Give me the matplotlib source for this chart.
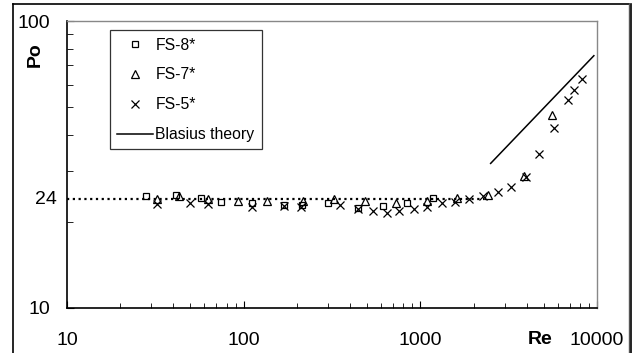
import numpy as np
import matplotlib
matplotlib.use("Agg")
import matplotlib.pyplot as plt
from matplotlib.ticker import LogLocator, NullFormatter, FixedLocator, FixedFormatter
from matplotlib.lines import Line2D

plt.rcParams['font.family'] = ['Liberation Sans', 'DejaVu Sans']

# FS-8* (squares)
re_fs8 = [27.9, 41.4, 57.3, 74.1, 111.9, 168.5, 212.9, 301, 445, 617, 843, 1183]
po_fs8 = [24.5, 24.7, 24.1, 23.5, 23.2, 22.9, 22.9, 23.2, 22.3, 22.7, 23.2, 24.1]

# FS-7* (triangles)
re_fs7 = [32.4, 43.0, 63.1, 93.2, 135, 217, 324, 486, 728, 1094, 1604, 2404, 3857, 5534]
po_fs7 = [23.9, 24.5, 23.9, 23.6, 23.6, 23.6, 23.9, 23.6, 23.2, 23.6, 24.1, 24.8, 28.8, 47.0]

# FS-5* (crosses)
re_fs5 = [32.4, 49.7, 63.1, 111, 168.5, 211, 351, 445, 541, 645, 760, 923, 1094,
          1321, 1570, 1891, 2270, 2760, 3244, 3945, 4710, 5725, 6870, 7430, 8245]
po_fs5 = [23.0, 23.2, 23.0, 22.4, 22.7, 22.4, 22.8, 22.1, 21.7, 21.5, 21.8, 22.1, 22.5,
          23.2, 23.5, 23.9, 24.5, 25.4, 26.3, 28.7, 34.4, 42.3, 53.0, 57.5, 62.8]

# Blasius theory line and laminar Po = 24 line
re_blasius = [2500, 9600]
po_blasius = [31.9, 75.7]
re_lam = [10, 2300]
po_lam = [24, 24]

fig = plt.figure(figsize=(6.4, 3.53), dpi=100)
ax = fig.add_axes([67/640, 45/353, 530/640, 287/353])

ax.plot(re_lam, po_lam, color='black', lw=1.6, linestyle=(0, (1, 1.6)))
ax.plot(re_blasius, po_blasius, color='black', lw=1.1, label='Blasius theory')
ax.plot(re_fs8, po_fs8, 's', ms=5, mfc='none', mec='black', mew=0.9, label='FS-8*')
ax.plot(re_fs7, po_fs7, '^', ms=6, mfc='none', mec='black', mew=0.9, label='FS-7*')
ax.plot(re_fs5, po_fs5, 'x', ms=6.2, mec='black', mew=0.9, label='FS-5*')

ax.set_xscale('log')
ax.set_yscale('log')
ax.set_xlim(10, 10000)
ax.set_ylim(10, 100)

ax.xaxis.set_major_locator(FixedLocator([10, 100, 1000, 10000]))
ax.xaxis.set_major_formatter(FixedFormatter(['10', '100', '1000', '10000']))
ax.xaxis.set_minor_locator(LogLocator(base=10, subs=np.arange(2, 10)))
ax.xaxis.set_minor_formatter(NullFormatter())
ax.yaxis.set_major_locator(FixedLocator([10, 100]))
ax.yaxis.set_major_formatter(FixedFormatter(['10', '100']))
ax.yaxis.set_minor_locator(LogLocator(base=10, subs=np.arange(2, 10)))
ax.yaxis.set_minor_formatter(NullFormatter())

ax.tick_params(which='both', direction='in', labelsize=14, colors='black')
ax.tick_params(axis='x', which='major', length=5, pad=17)
ax.tick_params(axis='x', which='minor', length=3.5)
ax.tick_params(axis='y', which='major', length=5, pad=12)
ax.tick_params(axis='y', which='minor', length=4.5)
ax.tick_params(top=False, right=False, which='both')

for s in ['top', 'right']:
    ax.spines[s].set_color('#888888')
    ax.spines[s].set_linewidth(1.0)
for s in ['left', 'bottom']:
    ax.spines[s].set_color('black')
    ax.spines[s].set_linewidth(1.2)

fig.text(57/640, 1 - 200/353, '24', fontsize=14, ha='right', va='center')
fig.text(35/640, 1 - 55/353, 'Po', fontsize=14, fontweight='bold', rotation=90,
         ha='center', va='center')
fig.text(540/640, 1 - 339.5/353, 'Re', fontsize=14, fontweight='bold',
         ha='center', va='center')

h, l = ax.get_legend_handles_labels()
order = [1, 2, 3, 0]
leg = ax.legend([h[i] for i in order], [l[i] for i in order], loc='upper left',
                bbox_to_anchor=(0.081, 0.967), fontsize=11.3, frameon=True,
                fancybox=False, edgecolor='black', handlelength=2.3,
                handletextpad=0.15, labelspacing=0.95, borderpad=0.45,
                borderaxespad=0)
leg.get_frame().set_linewidth(0.9)

# outer chart frame
fig.add_artist(Line2D([13/640, 13/640], [0, 1 - 4/353], color='black', lw=1.2))
fig.add_artist(Line2D([13/640, 629/640], [1 - 4/353, 1 - 4/353], color='black', lw=1.2))
fig.add_artist(Line2D([629/640, 629/640], [0, 1 - 4/353], color='#555555', lw=1.0))
fig.add_artist(Line2D([631/640, 631/640], [0, 1 - 4/353], color='black', lw=1.2))

fig.savefig('out.png', dpi=100)
